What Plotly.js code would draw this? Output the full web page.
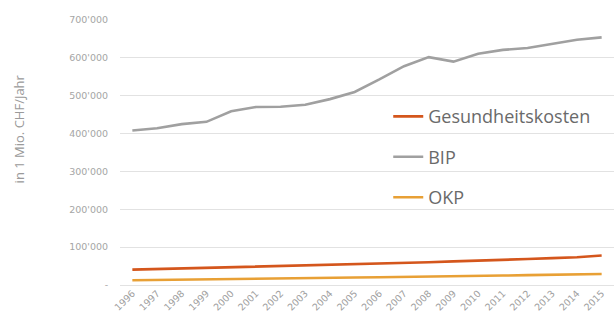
<!DOCTYPE html>
<html><head><meta charset="utf-8">
<script src="https://cdn.plot.ly/plotly-3.0.1.min.js"></script>
<style>html,body{margin:0;padding:0;background:#fff;}#chart{width:616px;height:326px;}</style>
</head><body><div id="chart"></div>
<script>
const years = ['1996','1997','1998','1999','2000','2001','2002','2003','2004','2005','2006','2007','2008','2009','2010','2011','2012','2013','2014','2015'];
const gesundheitskosten = [40500,42000,43500,44500,46000,48500,50500,52000,53500,55000,56000,57500,60000,62500,64000,66000,68500,71000,73500,78000];
const bip = [408000,414000,425000,431000,459000,470000,471000,476000,491000,510000,543000,578000,602000,590000,611000,621000,626000,638000,648000,654000];
const okp = [12500,13500,14500,15000,15500,16500,17500,18500,19500,20000,20500,21000,22000,23000,24000,25000,26000,27000,28000,29000];
const yTickVals = [0,100000,200000,300000,400000,500000,600000,700000];
const yTickText = ['-','100\'000','200\'000','300\'000','400\'000','500\'000','600\'000','700\'000'];
const seriesNames = ['Gesundheitskosten','BIP','OKP'];
const colors = ['#d4561c','#a0a0a0','#e8a035'];

const data = [gesundheitskosten, bip, okp].map((v,i)=>({
  x: years, y: v, type:'scatter', mode:'lines', name: seriesNames[i],
  legendgroup: 'g'+i,
  line:{color:colors[i], width:2.6}
}));

const layout = {
  width:616, height:326,
  margin:{l:120, r:2, t:20, b:41},
  paper_bgcolor:'#fff', plot_bgcolor:'#fff',
  font:{family:'Open Sans, Roboto, sans-serif', color:'#9a9a9a'},
  showlegend:true,
  legend:{x:0.543, y:0.705, xanchor:'left', yanchor:'top', bgcolor:'rgba(0,0,0,0)',
    font:{size:18, color:'#6a6a6a'}, traceorder:'grouped', tracegroupgap:14, itemwidth:30},
  xaxis:{type:'category', range:[-0.5,19.5], tickangle:-45,
    tickfont:{family:'DejaVu Sans, sans-serif', size:9.5, color:'#a0a0a0'},
    showgrid:false, showline:false, zeroline:false, ticks:'', fixedrange:true},
  yaxis:{range:[0,700000], tickvals:yTickVals, ticktext:yTickText,
    tickfont:{family:'DejaVu Sans, sans-serif', size:9.5, color:'#a5a5a5'}, gridcolor:'#e2e2e2', gridwidth:1,
    zeroline:true, zerolinecolor:'#e2e2e2', zerolinewidth:1, showline:false,
    ticks:'outside', ticklen:9, tickcolor:'rgba(0,0,0,0)', fixedrange:true},
  annotations:[{text:'in 1 Mio. CHF/Jahr', xref:'paper', yref:'paper',
    x:-0.205, y:0.59, textangle:-90, showarrow:false, xanchor:'center', yanchor:'middle',
    font:{size:13, color:'#9a9a9a'}}]
};
Plotly.newPlot('chart', data, layout, {displayModeBar:false, staticPlot:true});
</script></body></html>
